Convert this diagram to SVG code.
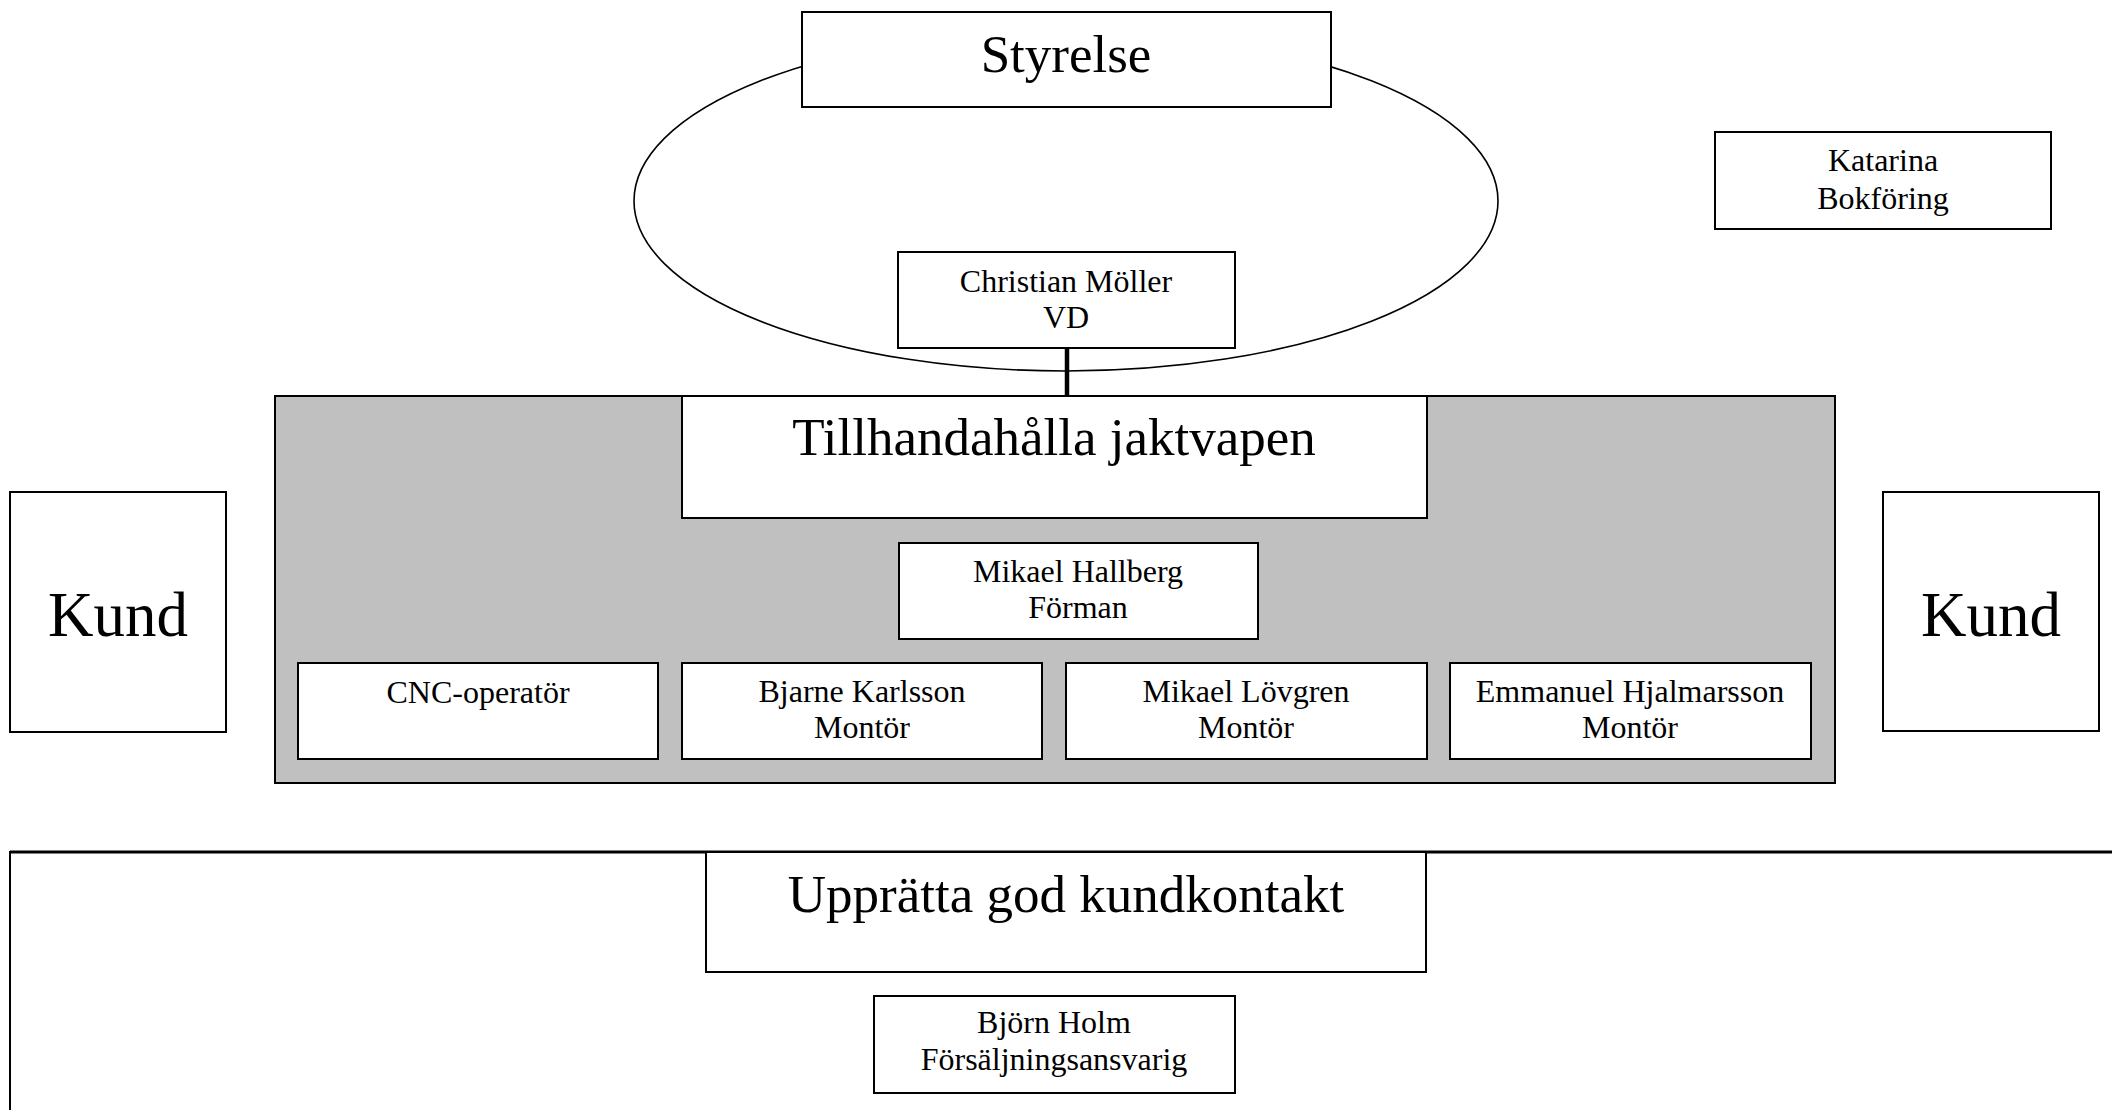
<svg xmlns="http://www.w3.org/2000/svg" width="2112" height="1110" viewBox="0 0 2112 1110">
<style>
.box{fill:#fff;stroke:#000;stroke-width:2}
.t{font-family:"Liberation Serif","Times New Roman",serif;fill:#000;text-anchor:middle}
.big{font-size:53px}
.kund{font-size:63px}
.sm{font-size:32px}
</style>
<rect x="0" y="0" width="2112" height="1110" fill="#fff"/>
<g id="styrelse-group">
<ellipse cx="1066" cy="201" rx="432" ry="170" fill="#fff" stroke="#000" stroke-width="1.6"/>
</g>
<g id="bottom-area">
<rect x="10" y="852" width="2200" height="400" fill="#fff" stroke="#000" stroke-width="2"/>
<line x1="10" y1="852" x2="2112" y2="852" stroke="#000" stroke-width="3"/>
</g>
<g id="gray-area">
<rect x="275" y="396" width="1560" height="387" fill="#c0c0c0" stroke="#000" stroke-width="2"/>
</g>
<g id="connectors">
<line x1="1067" y1="348" x2="1067" y2="396" stroke="#000" stroke-width="4.5"/>
</g>
<g id="styrelse">
<rect class="box" x="802" y="12" width="529" height="95"/>
<text class="t big" x="1066" y="72">Styrelse</text>
</g>
<g id="vd">
<rect class="box" x="898" y="252" width="337" height="96"/>
<text class="t sm" x="1066" y="292">Christian Möller</text>
<text class="t sm" x="1066" y="328">VD</text>
</g>
<g id="katarina">
<rect class="box" x="1715" y="132" width="336" height="97"/>
<text class="t sm" x="1883" y="171">Katarina</text>
<text class="t sm" x="1883" y="209">Bokföring</text>
</g>
<g id="kund-left">
<rect class="box" x="10" y="492" width="216" height="240"/>
<text class="t kund" x="118" y="636">Kund</text>
</g>
<g id="kund-right">
<rect class="box" x="1883" y="492" width="216" height="239"/>
<text class="t kund" x="1991" y="636">Kund</text>
</g>
<g id="tillhandahalla">
<rect class="box" x="682" y="396" width="745" height="122"/>
<text class="t big" x="1054" y="455">Tillhandahålla jaktvapen</text>
</g>
<g id="hallberg">
<rect class="box" x="899" y="543" width="359" height="96"/>
<text class="t sm" x="1078" y="582">Mikael Hallberg</text>
<text class="t sm" x="1078" y="618">Förman</text>
</g>
<g id="cnc">
<rect class="box" x="298" y="663" width="360" height="96"/>
<text class="t sm" x="478" y="703">CNC-operatör</text>
</g>
<g id="bjarne">
<rect class="box" x="682" y="663" width="360" height="96"/>
<text class="t sm" x="862" y="702">Bjarne Karlsson</text>
<text class="t sm" x="862" y="738">Montör</text>
</g>
<g id="lovgren">
<rect class="box" x="1066" y="663" width="361" height="96"/>
<text class="t sm" x="1246" y="702">Mikael Lövgren</text>
<text class="t sm" x="1246" y="738">Montör</text>
</g>
<g id="hjalmarsson">
<rect class="box" x="1450" y="663" width="361" height="96"/>
<text class="t sm" x="1630" y="702">Emmanuel Hjalmarsson</text>
<text class="t sm" x="1630" y="738">Montör</text>
</g>
<g id="uppratta">
<rect class="box" x="706" y="852" width="720" height="120"/>
<text class="t big" x="1066" y="912">Upprätta god kundkontakt</text>
</g>
<g id="holm">
<rect class="box" x="874" y="996" width="361" height="97"/>
<text class="t sm" x="1054" y="1033">Björn Holm</text>
<text class="t sm" x="1054" y="1070">Försäljningsansvarig</text>
</g>
</svg>
